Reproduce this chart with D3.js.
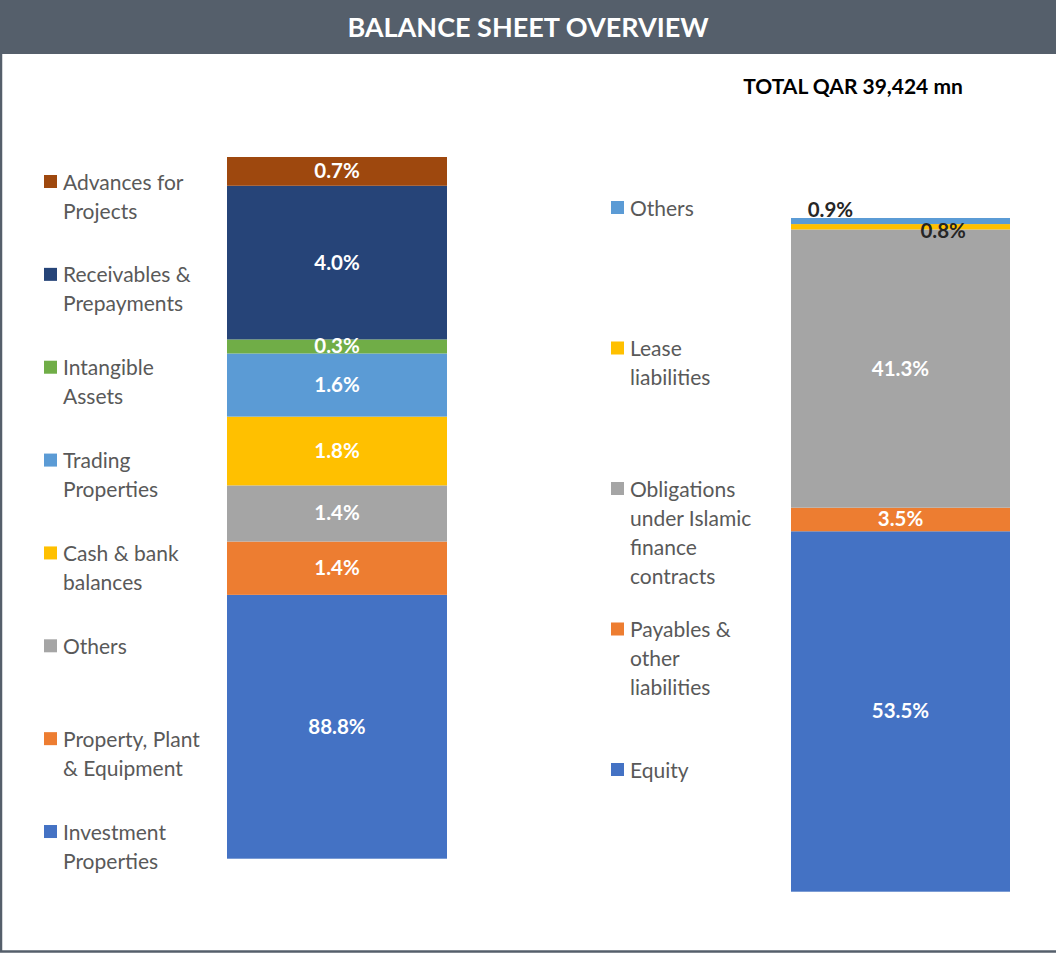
<!DOCTYPE html>
<html>
<head>
<meta charset="utf-8">
<script src="https://cdn.jsdelivr.net/npm/d3@7"></script>
<style>
  body { margin: 0; background: #fff; }
  svg { display: block; font-family: Lato, "Open Sans", sans-serif; }
</style>
</head>
<body>
<svg width="1056" height="953"></svg>
<script>
// assets (bottom to top)
const assetNames = ['Investment Properties', 'Property, Plant & Equipment', 'Others', 'Cash & bank balances',
  'Trading Properties', 'Intangible Assets', 'Receivables & Prepayments', 'Advances for Projects'];
const assetLegend = [['Investment', 'Properties'], ['Property, Plant', '& Equipment'], ['Others'], ['Cash & bank', 'balances'],
  ['Trading', 'Properties'], ['Intangible', 'Assets'], ['Receivables &', 'Prepayments'], ['Advances for', 'Projects']];
const assetLabels = ['88.8%', '1.4%', '1.4%', '1.8%', '1.6%', '0.3%', '4.0%', '0.7%'];
// bar heights as drawn in the source (not proportional to the labels)
const assetDrawn = [37.6, 7.6, 8.0, 9.8, 9.0, 2.0, 21.9, 4.1];
const assetColors = ['#4472C4', '#ED7D31', '#A5A5A5', '#FFC000', '#5B9BD5', '#70AD47', '#264478', '#9E480E'];

// liabilities & equity (bottom to top)
const liabNames = ['Equity', 'Payables & other liabilities', 'Obligations under Islamic finance contracts', 'Lease liabilities', 'Others'];
const liabLegend = [['Equity'], ['Payables &', 'other', 'liabilities'], ['Obligations', 'under Islamic', 'finance', 'contracts'], ['Lease', 'liabilities'], ['Others']];
const liabValues = [53.5, 3.5, 41.3, 0.8, 0.9];
const liabColors = ['#4472C4', '#ED7D31', '#A5A5A5', '#FFC000', '#5B9BD5'];

const svg = d3.select('svg');
const width = +svg.attr('width');
const height = +svg.attr('height');

// frame + title band (right edge runs off the picture)
svg.append('rect').attr('x', 1).attr('y', 1).attr('width', width + 10).attr('height', height - 2.5)
  .attr('fill', 'none').attr('stroke', '#555F6B').attr('stroke-width', 2.5);
svg.append('rect').attr('x', 0).attr('y', 0).attr('width', width).attr('height', 54).attr('fill', '#555F6B');
svg.append('text').attr('x', 528).attr('y', 37).attr('text-anchor', 'middle')
  .attr('fill', '#fff').attr('font-weight', 700).attr('font-size', 27)
  .text('BALANCE SHEET OVERVIEW');
svg.append('text').attr('x', 853).attr('y', 94).attr('text-anchor', 'middle')
  .attr('fill', '#000').attr('font-weight', 700).attr('font-size', 21)
  .text('TOTAL QAR 39,424 mn');

function stack(values) {
  let acc = 0;
  return values.map(v => { const s = acc; acc += v; return [s, acc]; });
}

function drawBar(cfg) {
  const y = d3.scaleLinear().domain([0, 100]).range([cfg.bottom, cfg.top]);
  const x = d3.scaleBand().domain([0]).range([cfg.x0, cfg.x1]).padding(0);
  const segs = stack(cfg.values).map((s, i) => ({ s, i }));
  const g = svg.append('g');
  g.selectAll('rect').data(segs).enter().append('rect')
    .attr('x', x(0)).attr('width', x.bandwidth())
    .attr('y', d => y(d.s[1])).attr('height', d => y(d.s[0]) - y(d.s[1]))
    .attr('fill', d => cfg.colors[d.i]);
  g.selectAll('text.lbl').data(segs).enter().append('text')
    .attr('class', 'lbl')
    .attr('text-anchor', 'middle').attr('font-weight', 700).attr('font-size', 20.5)
    .attr('x', d => cfg.labelPos && cfg.labelPos[d.i] ? x(0) + x.bandwidth() * cfg.labelPos[d.i][0] : x(0) + x.bandwidth() / 2)
    .attr('y', d => {
      const mid = (y(d.s[0]) + y(d.s[1])) / 2;
      return (cfg.labelPos && cfg.labelPos[d.i] ? mid + cfg.labelPos[d.i][1] : mid) + 7;
    })
    .attr('fill', d => cfg.labelPos && cfg.labelPos[d.i] ? '#262626' : '#fff')
    .text(d => cfg.labels[d.i]);
}

drawBar({ values: assetDrawn, labels: assetLabels, colors: assetColors, x0: 227, x1: 447, top: 157, bottom: 858.7 });
drawBar({ values: liabValues, labels: liabValues.map(v => v.toFixed(1) + '%'), colors: liabColors,
  x0: 791, x1: 1010, top: 218, bottom: 891.7,
  labelPos: [null, null, null, [0.695, 4], [0.18, -11]] });

function drawLegend(lines, colors, xm, yTop, step) {
  const n = lines.length;
  const g = svg.append('g');
  const items = g.selectAll('g').data(d3.range(n)).enter().append('g')
    .attr('transform', i => `translate(${xm},${yTop + (n - 1 - i) * step})`);
  items.append('rect').attr('x', 0).attr('y', -7).attr('width', 13).attr('height', 13)
    .attr('fill', i => colors[i]);
  items.append('text').attr('x', 19).attr('y', 7.5).attr('fill', '#595959').attr('font-size', 21)
    .selectAll('tspan').data(i => lines[i]).enter().append('tspan')
    .attr('x', 19).attr('dy', (d, k) => k === 0 ? 0 : 29).text(d => d);
}

drawLegend(assetLegend, assetColors, 44, 182, 92.86);
drawLegend(liabLegend, liabColors, 611, 208, 140.5);
</script>
</body>
</html>
